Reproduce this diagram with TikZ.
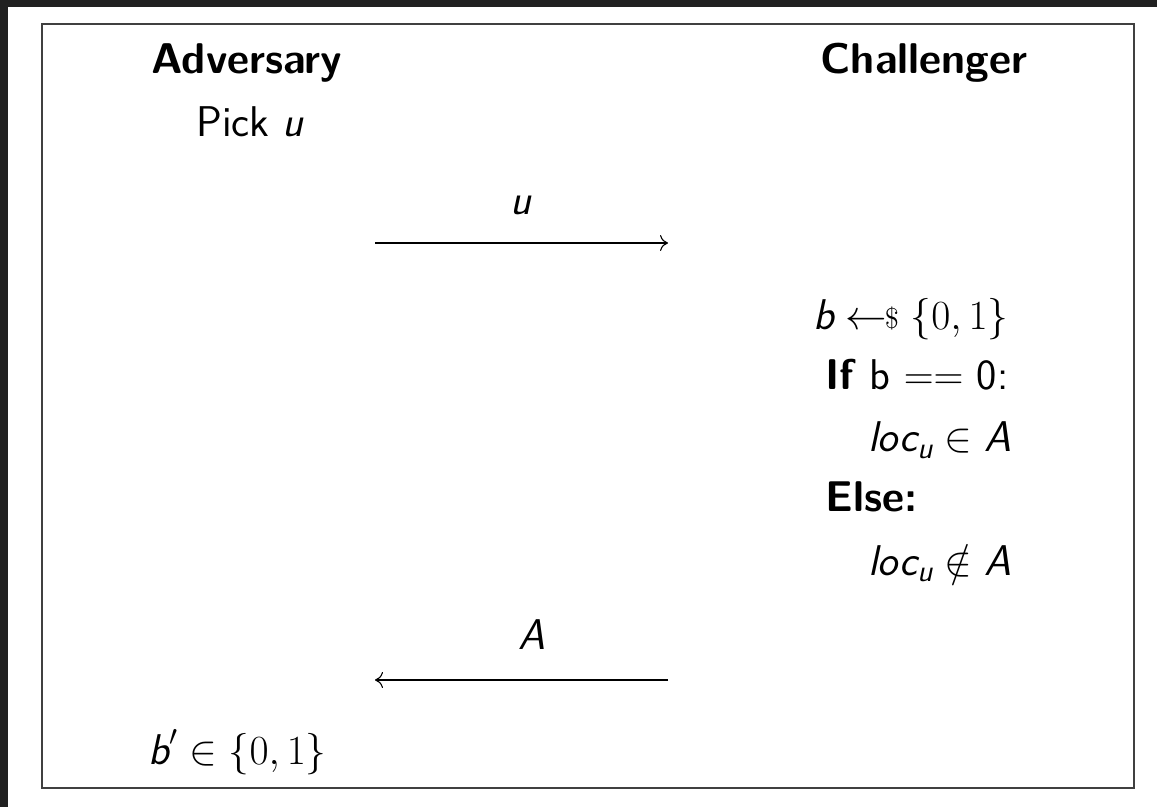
\documentclass[tikz,border=0pt]{standalone}
\usepackage{amsmath}
\usetikzlibrary{arrows.meta}
\renewcommand{\familydefault}{\sfdefault}
\newcommand{\sv}[1]{\text{\sffamily\slshape #1}}
\begin{document}
\begin{tikzpicture}[x=0.5pt,y=-0.5pt,
  txt/.style={inner sep=0pt,font=\fontsize{21.5}{25}\selectfont},
  hd/.style={txt,font=\fontsize{21.5}{25}\selectfont\bfseries},
  msg/.style={-{To[length=4pt,width=8pt]},line width=0.55pt,black}]
\useasboundingbox (0,0) rectangle (1157,807);
\fill[black!87] (0,0) rectangle (1157,7);
\fill[black!87] (0,0) rectangle (8,807);
\draw[line width=0.9pt,black!75] (42,24) rectangle (1134,788);
% headings
\node[hd,anchor=base] (adv) at (247,74) {Adversary};
\node[hd,anchor=base] (chal) at (924,74) {Challenger};
\node[txt,anchor=base] (pick) at (250,137) {Pick $\sv{u}$};
% message u
\coordinate (a1s) at (375,243);
\coordinate (a1e) at (668,243);
\draw[msg] (a1s) -- (a1e);
\node[txt,anchor=base] (lu) at (521,215) {$\sv{u}$};
% challenger steps
\node[txt,anchor=base west] (samp) at (813,330) {$\sv{b}\mathrel{\leftarrow\!\!\raisebox{0.1ex}{$\scriptstyle\$$}}\{0,1\}$};
\node[txt,anchor=base west] (if) at (825,390) {\textbf{If} b $==$ 0:};
\node[txt,anchor=base west] (in) at (868,452) {$\sv{loc}_{\sv{u}}\in\sv{A}$};
\node[txt,anchor=base west] (else) at (825,512) {\textbf{Else:}};
\node[txt,anchor=base west] (nin) at (868,575) {$\sv{loc}_{\sv{u}}\notin\sv{A}$};
% message A
\coordinate (a2s) at (668,680);
\coordinate (a2e) at (375,680);
\draw[msg] (a2s) -- (a2e);
\node[txt,anchor=base] (lA) at (532,649) {$\sv{A}$};
% guess
\node[txt,anchor=base west] (guess) at (148,764) {$\sv{b}'\in\{0,1\}$};
\end{tikzpicture}
\end{document}
